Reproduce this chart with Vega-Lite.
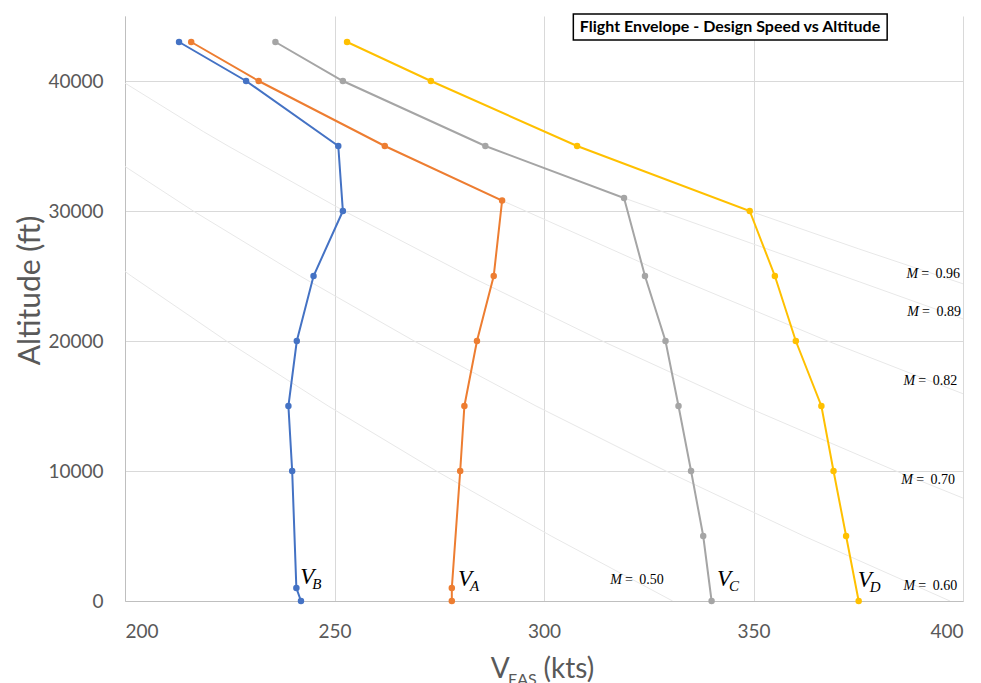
{
  "$schema": "https://vega.github.io/schema/vega-lite/v6.json",
  "width": 838,
  "height": 585,
  "autosize": {"type": "none"},
  "padding": {"left": 125, "top": 16, "right": 18, "bottom": 82},
  "background": "white",
  "config": {
    "view": {"stroke": null},
    "axis": {"labelFont": "Lato", "titleFont": "Lato", "labelColor": "#595959", "titleColor": "#595959", "gridColor": "#d9d9d9", "domainColor": "#bfbfbf", "ticks": false}
  },
  "datasets": {
    "mach": [
      {"m": "0.50", "v": 330.7, "h": 0}, {"m": "0.50", "v": 301.7, "h": 5000}, {"m": "0.50", "v": 274.3, "h": 10000}, {"m": "0.50", "v": 248.5, "h": 15000}, {"m": "0.50", "v": 224.2, "h": 20000}, {"m": "0.50", "v": 201.5, "h": 25000}, {"m": "0.50", "v": 180.2, "h": 30000},
      {"m": "0.60", "v": 396.9, "h": 0}, {"m": "0.60", "v": 362.0, "h": 5000}, {"m": "0.60", "v": 329.1, "h": 10000}, {"m": "0.60", "v": 298.1, "h": 15000}, {"m": "0.60", "v": 269.0, "h": 20000}, {"m": "0.60", "v": 241.8, "h": 25000}, {"m": "0.60", "v": 216.3, "h": 30000}, {"m": "0.60", "v": 192.5, "h": 35000},
      {"m": "0.70", "v": 463.0, "h": 0}, {"m": "0.70", "v": 422.4, "h": 5000}, {"m": "0.70", "v": 384.0, "h": 10000}, {"m": "0.70", "v": 347.8, "h": 15000}, {"m": "0.70", "v": 313.9, "h": 20000}, {"m": "0.70", "v": 282.1, "h": 25000}, {"m": "0.70", "v": 252.3, "h": 30000}, {"m": "0.70", "v": 224.6, "h": 35000}, {"m": "0.70", "v": 218.8, "h": 36089}, {"m": "0.70", "v": 199.2, "h": 40000},
      {"m": "0.82", "v": 290.0, "h": 30800}, {"m": "0.82", "v": 295.6, "h": 30000}, {"m": "0.82", "v": 330.4, "h": 25000}, {"m": "0.82", "v": 367.7, "h": 20000}, {"m": "0.82", "v": 407.5, "h": 15000},
      {"m": "0.89", "v": 319.1, "h": 31000}, {"m": "0.89", "v": 337.2, "h": 28923}, {"m": "0.89", "v": 375.4, "h": 24538}, {"m": "0.89", "v": 400.0, "h": 21700}, {"m": "0.89", "v": 410.0, "h": 20550},
      {"m": "0.96", "v": 349.1, "h": 30000}, {"m": "0.96", "v": 375.0, "h": 27100}, {"m": "0.96", "v": 400.0, "h": 24400}, {"m": "0.96", "v": 410.0, "h": 23300}
    ],
    "speeds": [
      {"s": "VB", "v": 212.9, "h": 43000}, {"s": "VB", "v": 228.9, "h": 40000}, {"s": "VB", "v": 250.9, "h": 35000}, {"s": "VB", "v": 252.0, "h": 30000}, {"s": "VB", "v": 245.0, "h": 25000}, {"s": "VB", "v": 241.0, "h": 20000}, {"s": "VB", "v": 239.0, "h": 15000}, {"s": "VB", "v": 239.9, "h": 10000}, {"s": "VB", "v": 240.9, "h": 1000}, {"s": "VB", "v": 242.0, "h": 0},
      {"s": "VA", "v": 215.8, "h": 43000}, {"s": "VA", "v": 231.9, "h": 40000}, {"s": "VA", "v": 262.0, "h": 35000}, {"s": "VA", "v": 290.0, "h": 30800}, {"s": "VA", "v": 288.0, "h": 25000}, {"s": "VA", "v": 284.0, "h": 20000}, {"s": "VA", "v": 281.0, "h": 15000}, {"s": "VA", "v": 280.0, "h": 10000}, {"s": "VA", "v": 278.0, "h": 1000}, {"s": "VA", "v": 278.0, "h": 0},
      {"s": "VC", "v": 235.9, "h": 43000}, {"s": "VC", "v": 252.0, "h": 40000}, {"s": "VC", "v": 286.0, "h": 35000}, {"s": "VC", "v": 319.1, "h": 31000}, {"s": "VC", "v": 324.1, "h": 25000}, {"s": "VC", "v": 329.0, "h": 20000}, {"s": "VC", "v": 332.1, "h": 15000}, {"s": "VC", "v": 335.1, "h": 10000}, {"s": "VC", "v": 338.0, "h": 5000}, {"s": "VC", "v": 340.0, "h": 0},
      {"s": "VD", "v": 253.0, "h": 43000}, {"s": "VD", "v": 273.0, "h": 40000}, {"s": "VD", "v": 307.9, "h": 35000}, {"s": "VD", "v": 349.1, "h": 30000}, {"s": "VD", "v": 355.1, "h": 25000}, {"s": "VD", "v": 360.1, "h": 20000}, {"s": "VD", "v": 366.2, "h": 15000}, {"s": "VD", "v": 369.1, "h": 10000}, {"s": "VD", "v": 372.1, "h": 5000}, {"s": "VD", "v": 375.1, "h": 0}
    ],
    "vlabels": [
      {"sub": "B", "v": 241.8, "h": 1846},
      {"sub": "A", "v": 279.5, "h": 1692},
      {"sub": "C", "v": 341.3, "h": 1692},
      {"sub": "D", "v": 374.9, "h": 1615}
    ],
    "mlabels": [
      {"lab": "0.96", "v": 399.3, "h": 25150},
      {"lab": "0.89", "v": 399.5, "h": 22230},
      {"lab": "0.82", "v": 398.6, "h": 16920},
      {"lab": "0.70", "v": 398.1, "h": 9310},
      {"lab": "0.60", "v": 398.6, "h": 1150},
      {"lab": "0.50", "v": 328.6, "h": 1615}
    ]
  },
  "layer": [
    {
      "data": {"name": "mach"},
      "mark": {"type": "line", "color": "#e8e8e8", "strokeWidth": 1, "clip": true},
      "encoding": {
        "x": {"field": "v", "type": "quantitative", "scale": {"domain": [200, 400], "nice": false, "zero": false},
          "axis": {"values": [200, 250, 300, 350, 400], "title": null, "labelFontSize": 19, "labelPadding": 21, "grid": true}},
        "y": {"field": "h", "type": "quantitative", "scale": {"domain": [0, 45000], "nice": false, "zero": false},
          "axis": {"values": [0, 10000, 20000, 30000, 40000], "title": "Altitude (ft)", "titleFontSize": 30, "titleFontWeight": "normal", "titleX": -95, "titleY": 274, "titleAngle": -90, "titleAlign": "center", "titleBaseline": "middle", "labelFontSize": 19, "labelPadding": 22, "grid": true, "format": "d"}},
        "detail": {"field": "m"},
        "order": {"field": "h"}
      }
    },
    {
      "data": {"name": "speeds"},
      "mark": {"type": "line", "strokeWidth": 2},
      "encoding": {
        "x": {"field": "v", "type": "quantitative"},
        "y": {"field": "h", "type": "quantitative"},
        "color": {"field": "s", "type": "nominal", "scale": {"domain": ["VB", "VA", "VC", "VD"], "range": ["#4472C4", "#ED7D31", "#A5A5A5", "#FFC000"]}, "legend": null},
        "order": {"field": "h"}
      }
    },
    {
      "data": {"name": "speeds"},
      "mark": {"type": "circle", "size": 42, "opacity": 1},
      "encoding": {
        "x": {"field": "v", "type": "quantitative"},
        "y": {"field": "h", "type": "quantitative"},
        "color": {"field": "s", "type": "nominal", "legend": null}
      }
    },
    {
      "data": {"name": "vlabels"},
      "mark": {"type": "text", "text": "V", "font": "Liberation Serif", "fontStyle": "italic", "fontSize": 23, "align": "left", "baseline": "middle", "color": "black"},
      "encoding": {"x": {"field": "v", "type": "quantitative"}, "y": {"field": "h", "type": "quantitative"}}
    },
    {
      "data": {"name": "vlabels"},
      "mark": {"type": "text", "font": "Liberation Serif", "fontStyle": "italic", "fontSize": 15, "align": "left", "baseline": "middle", "dx": 12, "dy": 7, "color": "black"},
      "encoding": {"x": {"field": "v", "type": "quantitative"}, "y": {"field": "h", "type": "quantitative"}, "text": {"field": "sub"}}
    },
    {
      "data": {"name": "mlabels"},
      "mark": {"type": "text", "text": "M", "font": "Liberation Serif", "fontStyle": "italic", "fontSize": 14, "align": "right", "baseline": "middle", "dx": -42, "color": "black"},
      "encoding": {"x": {"field": "v", "type": "quantitative"}, "y": {"field": "h", "type": "quantitative"}}
    },
    {
      "data": {"name": "mlabels"},
      "mark": {"type": "text", "font": "Liberation Serif", "fontSize": 14, "align": "right", "baseline": "middle", "color": "black"},
      "encoding": {"x": {"field": "v", "type": "quantitative"}, "y": {"field": "h", "type": "quantitative"}, "text": {"field": "lab", "type": "nominal"}}
    },
    {
      "data": {"name": "mlabels"},
      "mark": {"type": "text", "text": "=", "font": "Liberation Serif", "fontSize": 14, "align": "right", "baseline": "middle", "dx": -31, "color": "black"},
      "encoding": {"x": {"field": "v", "type": "quantitative"}, "y": {"field": "h", "type": "quantitative"}}
    },
    {
      "data": {"values": [{}]},
      "mark": {"type": "rect", "fill": "white", "stroke": "black", "strokeWidth": 1.5},
      "encoding": {"x": {"datum": 307.0}, "x2": {"datum": 381.9}, "y": {"datum": 45154}, "y2": {"datum": 43154}}
    },
    {
      "data": {"values": [{}]},
      "mark": {"type": "text", "text": "Flight Envelope - Design Speed vs Altitude", "font": "Lato", "fontWeight": "bold", "fontSize": 16, "align": "center", "baseline": "middle", "color": "black"},
      "encoding": {"x": {"datum": 344.4}, "y": {"datum": 44154}}
    },
    {
      "data": {"values": [{}]},
      "mark": {"type": "text", "text": "V", "font": "Lato", "fontSize": 28, "align": "left", "baseline": "middle", "color": "#595959"},
      "encoding": {"x": {"datum": 287.3}, "y": {"datum": -5300}}
    },
    {
      "data": {"values": [{}]},
      "mark": {"type": "text", "text": "EAS", "font": "Lato", "fontSize": 16, "align": "left", "baseline": "middle", "color": "#595959"},
      "encoding": {"x": {"datum": 291.4}, "y": {"datum": -6050}}
    },
    {
      "data": {"values": [{}]},
      "mark": {"type": "text", "text": "(kts)", "font": "Lato", "fontSize": 28, "align": "left", "baseline": "middle", "color": "#595959"},
      "encoding": {"x": {"datum": 299.9}, "y": {"datum": -5300}}
    }
  ]
}
